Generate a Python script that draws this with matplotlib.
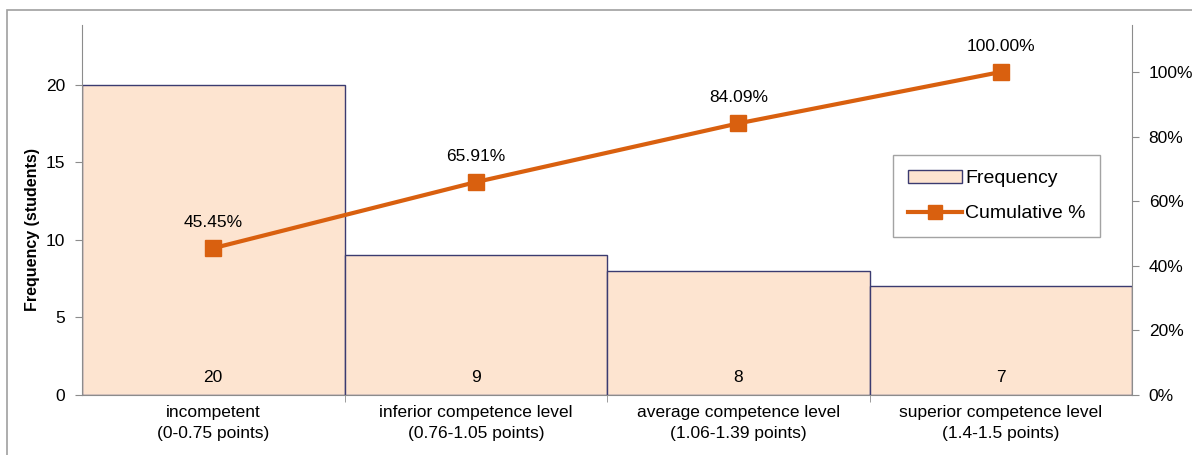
import matplotlib
matplotlib.use("Agg")

import matplotlib.pyplot as plt
from matplotlib.lines import Line2D
from matplotlib.patches import Patch, Rectangle
from matplotlib.ticker import FuncFormatter

plt.rcParams["font.family"] = ["Liberation Sans", "DejaVu Sans"]

categories = [
    "incompetent\n(0-0.75 points)",
    "inferior competence level\n(0.76-1.05 points)",
    "average competence level\n(1.06-1.39 points)",
    "superior competence level\n(1.4-1.5 points)",
]
frequency = [20, 9, 8, 7]
cumulative = [45.45, 65.91, 84.09, 100.00]

BAR_FILL = "#fde4d0"
BAR_EDGE = "#3b3b70"
LINE = "#d9600f"
AXIS_GREY = "#8c8c8c"
FS = 12.5

fig = plt.figure(figsize=(11.92, 4.55), dpi=100)
# outer frame of the chart area (runs off the right and bottom edges)
fig.patches.append(Rectangle((7 / 1192, -0.2), 1.2, 1.2 - 10 / 455,
                             transform=fig.transFigure, fill=False,
                             edgecolor="#a0a0a0", linewidth=1.2))

ax = fig.add_axes([82 / 1192, 1 - 395 / 455, (1132 - 82) / 1192, (395 - 25) / 455])
x = range(len(categories))
ax.bar(x, frequency, width=1.0, color=BAR_FILL, edgecolor=BAR_EDGE, linewidth=1.0,
       label="Frequency")
ax.set_xlim(-0.5, len(categories) - 0.5)
ax.set_ylim(0, 23.87)
ax.set_yticks([0, 5, 10, 15, 20])
ax.set_xticks(list(x))
ax.set_xticklabels(categories, fontsize=FS, linespacing=1.55)
ax.tick_params(axis="y", labelsize=FS, color=AXIS_GREY, length=5, pad=7)
ax.set_xticks([i + 0.5 for i in range(len(categories) - 1)], minor=True)
ax.tick_params(axis="x", which="major", length=0, pad=7)
ax.tick_params(axis="x", which="minor", length=5, color=AXIS_GREY)
ax.set_ylabel("Frequency (students)", fontsize=11.5, fontweight="bold")
ax.yaxis.set_label_coords(-0.04, 0.446)
for s in ["top", "right"]:
    ax.spines[s].set_visible(False)
for s in ["left", "bottom"]:
    ax.spines[s].set_color(AXIS_GREY)

for i, f in enumerate(frequency):
    ax.text(i, 1.1, str(f), ha="center", va="center", fontsize=FS)

ax2 = ax.twinx()
ax2.plot(list(x), cumulative, color=LINE, linewidth=3, marker="s", markersize=11,
         label="Cumulative %")
ax2.set_ylim(0, 114.55)
ax2.set_yticks([0, 20, 40, 60, 80, 100])
ax2.yaxis.set_major_formatter(FuncFormatter(lambda v, p: f"{v:.0f}%"))
ax2.tick_params(axis="y", labelsize=FS, color=AXIS_GREY, length=5, pad=7)
for s in ["top", "left", "bottom"]:
    ax2.spines[s].set_visible(False)
ax2.spines["right"].set_color(AXIS_GREY)
for i, c in enumerate(cumulative):
    ax2.annotate(f"{c:.2f}%", (i, c), xytext=(0, 13), textcoords="offset points",
                 ha="center", va="bottom", fontsize=FS)

handles = [Patch(facecolor=BAR_FILL, edgecolor=BAR_EDGE, label="Frequency"),
           Line2D([], [], color=LINE, linewidth=3, marker="s", markersize=10,
                  label="Cumulative %")]
leg = ax2.legend(handles=handles, loc="upper left",
                 bbox_to_anchor=((893 - 82) / 1050, 1 - (155 - 25) / 370),
                 fontsize=14, frameon=True, fancybox=False, borderpad=0.75,
                 labelspacing=0.9, handlelength=2.8, handletextpad=0.15,
                 borderaxespad=0)
leg.get_frame().set_edgecolor("#8c8c8c")
leg.get_frame().set_linewidth(1.0)

fig.savefig("out.png", dpi=100)
